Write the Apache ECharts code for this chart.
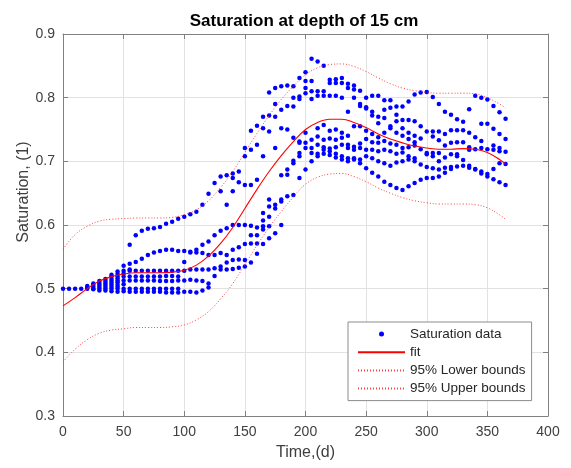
<!DOCTYPE html>
<html><head><meta charset="utf-8">
<script src="https://cdn.jsdelivr.net/npm/echarts@6/dist/echarts.min.js"></script>
<style>html,body{margin:0;padding:0;background:#fff}#c{width:571px;height:468px}</style>
</head><body><div id="c"></div>
<script>
// ---- data ----
const xTicks = [0, 50, 100, 150, 200, 250, 300, 350, 400];
const yTicks = [0.3, 0.4, 0.5, 0.6, 0.7, 0.8, 0.9];

const earlyDays = [0,5,10,15,20,25,30,35,40,45,50,55,60,65,70,75,80,85,90,95];
const earlySat = [
 [0.500],
 [0.500],
 [0.500],
 [0.500],
 [0.500,0.502,0.504],
 [0.499,0.500,0.503,0.506,0.508],
 [0.497,0.500,0.503,0.506,0.509,0.512],
 [0.497,0.500,0.503,0.506,0.509,0.512,0.515],
 [0.496,0.500,0.503,0.506,0.509,0.512,0.515,0.519,0.522],
 [0.495,0.500,0.503,0.506,0.510,0.513,0.516,0.519,0.523,0.527],
 [0.536,0.528,0.524,0.519,0.513,0.507,0.500,0.496],
 [0.569,0.539,0.530,0.528,0.519,0.513,0.500,0.495],
 [0.584,0.542,0.528,0.519,0.513,0.500,0.495],
 [0.591,0.547,0.528,0.519,0.513,0.500,0.495],
 [0.594,0.553,0.528,0.519,0.513,0.500,0.495],
 [0.595,0.557,0.528,0.519,0.513,0.500,0.495],
 [0.597,0.559,0.528,0.519,0.512,0.500,0.495],
 [0.602,0.561,0.528,0.520,0.512,0.500,0.494],
 [0.605,0.561,0.528,0.520,0.512,0.500,0.494],
 [0.610,0.559,0.528,0.519,0.513,0.500,0.494]
];

const midDays = [100,105,110,115,120,125,130,135,140,145,150,155,160,165,170,175,180,185,190,195];
const midSat = [
 [0.613,0.559,0.542,0.528,0.513,0.495],
 [0.617,0.558,0.557,0.530,0.514,0.495],
 [0.621,0.561,0.557,0.530,0.513,0.494],
 [0.632,0.569,0.556,0.530,0.512,0.497],
 [0.649,0.574,0.553,0.530,0.508,0.502],
 [0.666,0.584,0.553,0.532,0.520],
 [0.676,0.653,0.591,0.556,0.535,0.530],
 [0.678,0.632,0.595,0.553,0.541,0.530],
 [0.681,0.674,0.653,0.600,0.561,0.545,0.531],
 [0.684,0.667,0.600,0.565,0.546,0.533],
 [0.721,0.708,0.663,0.600,0.570,0.545,0.535],
 [0.748,0.718,0.663,0.599,0.584,0.571,0.541],
 [0.756,0.726,0.671,0.596,0.584,0.571,0.555],
 [0.770,0.752,0.708,0.619,0.607,0.598,0.593,0.570],
 [0.808,0.772,0.747,0.640,0.629,0.613,0.598,0.579],
 [0.815,0.790,0.770,0.721,0.632,0.626,0.587],
 [0.818,0.781,0.752,0.678,0.640,0.637,0.600],
 [0.819,0.787,0.750,0.687,0.679,0.645],
 [0.818,0.800,0.786,0.737,0.701,0.697,0.647],
 [0.831,0.802,0.798,0.731,0.729,0.713,0.708,0.674]
];

const lateDays = [200,205,210,215,220,225,230,235,240,245,250,255,260,265,270,275,280,285,290,295,300,305,310,315,320,325,330,335,340,345,350,355,360,365];
const lateSat = [
 [0.840,0.826,0.815,0.807,0.745,0.729,0.721,0.687],
 [0.861,0.826,0.810,0.798,0.734,0.721,0.713,0.700],
 [0.857,0.810,0.803,0.752,0.739,0.726,0.708,0.712],
 [0.850,0.810,0.803,0.757,0.734,0.722,0.712,0.718],
 [0.828,0.823,0.803,0.748,0.736,0.720,0.710,0.716],
 [0.829,0.823,0.803,0.750,0.734,0.722,0.706,0.712],
 [0.831,0.823,0.800,0.745,0.737,0.726,0.703,0.708],
 [0.822,0.815,0.778,0.740,0.726,0.721,0.700,0.705],
 [0.819,0.813,0.800,0.755,0.723,0.718,0.705,0.703],
 [0.811,0.787,0.790,0.755,0.728,0.721,0.703,0.697],
 [0.800,0.783,0.785,0.748,0.735,0.718,0.708,0.689],
 [0.803,0.778,0.772,0.743,0.730,0.718,0.705,0.682],
 [0.803,0.770,0.760,0.738,0.729,0.716,0.700,0.676],
 [0.796,0.781,0.768,0.745,0.732,0.718,0.697,0.668],
 [0.796,0.784,0.755,0.752,0.728,0.716,0.693,0.663],
 [0.786,0.773,0.763,0.745,0.726,0.712,0.698,0.658],
 [0.786,0.765,0.752,0.740,0.721,0.714,0.700,0.655],
 [0.794,0.765,0.745,0.735,0.722,0.708,0.703,0.661],
 [0.805,0.763,0.740,0.730,0.725,0.705,0.700,0.666],
 [0.808,0.755,0.736,0.719,0.695,0.671],
 [0.809,0.747,0.713,0.711,0.691,0.674],
 [0.801,0.747,0.739,0.713,0.708,0.689,0.674],
 [0.790,0.747,0.733,0.713,0.700,0.687,0.676],
 [0.778,0.743,0.725,0.706,0.690,0.682],
 [0.773,0.749,0.729,0.711,0.691,0.688],
 [0.766,0.749,0.730,0.711,0.708,0.692],
 [0.762,0.749,0.730,0.702,0.693],
 [0.782,0.745,0.722,0.718,0.693,0.690],
 [0.803,0.738,0.719,0.688,0.687],
 [0.800,0.759,0.732,0.721,0.684,0.681],
 [0.797,0.759,0.719,0.680,0.676],
 [0.787,0.751,0.725,0.718,0.688,0.672],
 [0.777,0.743,0.721,0.716,0.697,0.667],
 [0.767,0.735,0.715,0.696,0.663]
];

const fitDays = [0,10,20,30,40,50,60,70,80,90,100,110,120,130,140,150,160,170,180,190,200,210,220,230,240,250,260,270,280,290,300,310,320,330,340,350,360,365];
const fitSat = [0.473,0.486,0.500,0.512,0.519,0.523,0.525,0.525,0.525,0.526,0.529,0.537,0.551,0.571,0.596,0.626,0.656,0.684,0.709,0.731,0.750,0.761,0.766,0.766,0.761,0.753,0.743,0.735,0.729,0.724,0.721,0.719,0.719,0.720,0.719,0.714,0.703,0.696];
const upperSat = [0.562,0.585,0.598,0.606,0.609,0.610,0.611,0.611,0.611,0.612,0.616,0.624,0.638,0.659,0.684,0.714,0.744,0.772,0.797,0.818,0.836,0.847,0.852,0.853,0.849,0.841,0.831,0.822,0.815,0.811,0.808,0.807,0.807,0.807,0.806,0.800,0.790,0.784];
const lowerSat = [0.385,0.405,0.420,0.430,0.435,0.437,0.439,0.439,0.439,0.440,0.443,0.451,0.464,0.484,0.508,0.538,0.568,0.596,0.621,0.644,0.664,0.675,0.680,0.681,0.676,0.668,0.658,0.650,0.643,0.638,0.635,0.633,0.633,0.633,0.632,0.627,0.616,0.609];

// ---- build ----
function cols(days, vals) {
  const out = [];
  days.forEach((d, i) => vals[i].forEach(v => out.push([d, v])));
  return out;
}
const scatterData = cols(earlyDays, earlySat).concat(cols(midDays, midSat), cols(lateDays, lateSat));
const pairs = (ys) => fitDays.map((d, i) => [d, ys[i]]);

const FONT = '"Liberation Sans", Arial, Helvetica, sans-serif';
const AX = '#808080', TXT = '#404040', GRIDC = '#e2e2e2';
const RED_DOT = '#ff2a2a';

function xAx(pos, labels) {
  return {
    type: 'value', min: xTicks[0], max: xTicks[xTicks.length - 1], interval: 50, position: pos,
    axisLine: { show: true, onZero: false, lineStyle: { color: AX, width: 1 } },
    axisTick: { show: true, inside: true, length: 5, lineStyle: { color: AX } },
    axisLabel: { show: labels, color: TXT, fontSize: 14, fontFamily: FONT, margin: 9 },
    splitLine: { show: labels, lineStyle: { color: GRIDC, width: 1 } },
    name: labels ? 'Time,(d)' : '', nameLocation: 'middle', nameGap: 29,
    nameTextStyle: { color: TXT, fontSize: 16, fontFamily: FONT }
  };
}
function yAx(pos, labels) {
  return {
    type: 'value', min: yTicks[0], max: yTicks[yTicks.length - 1], interval: 0.1, position: pos,
    axisLine: { show: true, onZero: false, lineStyle: { color: AX, width: 1 } },
    axisTick: { show: true, inside: true, length: 5, lineStyle: { color: AX } },
    axisLabel: { show: labels, color: TXT, fontSize: 14, fontFamily: FONT, margin: 8,
      formatter: v => (Math.round(v * 10) / 10).toFixed(1) },
    splitLine: { show: labels, lineStyle: { color: GRIDC, width: 1 } }
  };
}

const chart = echarts.init(document.getElementById('c'), null, { renderer: 'canvas' });
chart.setOption({
  animation: false,
  backgroundColor: '#ffffff',
  grid: { left: 63, right: 23, top: 34, bottom: 52, containLabel: false, outerBoundsMode: 'none' },
  xAxis: [xAx('bottom', true), xAx('top', false)],
  yAxis: [yAx('left', true), yAx('right', false)],
  legend: {
    orient: 'vertical', left: 348, top: 322,
    itemWidth: 47, itemHeight: 5, itemGap: 4.2,
    padding: [5, 6, 5, 9],
    borderColor: '#8c8c8c', borderWidth: 1, borderRadius: 0, backgroundColor: '#ffffff',
    selectedMode: false,
    textStyle: { color: '#262626', fontSize: 13.5, fontFamily: FONT, lineHeight: 14 },
    data: [
      { name: 'Saturation data' },
      { name: 'fit', itemStyle: { opacity: 0 } },
      { name: '95% Lower bounds', itemStyle: { opacity: 0 } },
      { name: '95% Upper bounds', itemStyle: { opacity: 0 } }
    ]
  },
  graphic: [
    { type: 'text', x: 304, y: 21, silent: true,
      style: { text: 'Saturation at depth of 15 cm', font: 'bold 17px ' + FONT, fill: '#000000',
        textAlign: 'center', textVerticalAlign: 'middle' } },
    { type: 'text', x: 23.5, y: 192, rotation: Math.PI / 2, silent: true,
      style: { text: 'Saturation, (1)', font: '16px ' + FONT, fill: TXT,
        textAlign: 'center', textVerticalAlign: 'middle' } }
  ],
  series: [
    { name: 'Saturation data', type: 'scatter', data: scatterData, symbol: 'circle', symbolSize: 4.5,
      itemStyle: { color: '#0000ff', opacity: 1 }, z: 3 },
    { name: 'fit', type: 'line', data: pairs(fitSat), smooth: 0.4, symbol: 'none', showSymbol: false,
      lineStyle: { color: '#ff0000', width: 1.1 }, itemStyle: { color: '#ff0000' }, z: 4 },
    { name: '95% Lower bounds', type: 'line', data: pairs(lowerSat), smooth: 0.4, symbol: 'none', showSymbol: false,
      lineStyle: { color: RED_DOT, width: 1, type: [1, 2], opacity: 0.9 }, itemStyle: { color: RED_DOT }, z: 4 },
    { name: '95% Upper bounds', type: 'line', data: pairs(upperSat), smooth: 0.4, symbol: 'none', showSymbol: false,
      lineStyle: { color: RED_DOT, width: 1, type: [1, 2], opacity: 0.9 }, itemStyle: { color: RED_DOT }, z: 4 }
  ]
});
</script>
</body></html>
